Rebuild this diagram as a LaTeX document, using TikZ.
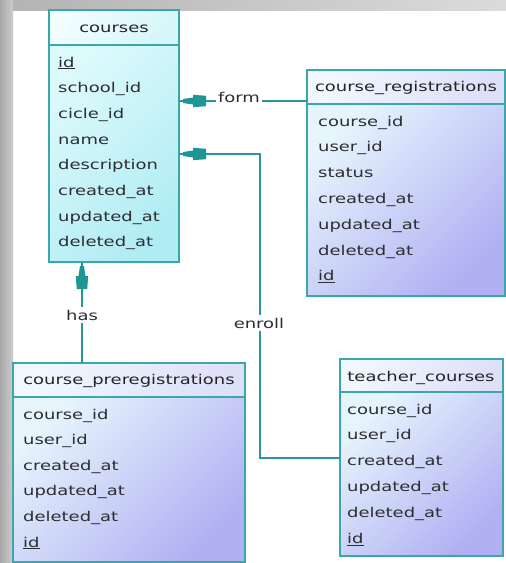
\documentclass[tikz,border=0pt]{standalone}
\usepackage{fontspec}
\newfontfamily\erfont[FakeStretch=1.33]{DejaVu Sans}
\definecolor{boxc}{RGB}{58,168,170}
\definecolor{connc}{RGB}{40,150,152}
\definecolor{arrc}{RGB}{30,150,150}
\definecolor{txtc}{RGB}{45,45,50}
\definecolor{cyhA}{RGB}{242,253,254}
\definecolor{cyhB}{RGB}{214,246,249}
\definecolor{cybA}{RGB}{220,250,252}
\definecolor{cybB}{RGB}{176,236,243}
\definecolor{lvhA}{RGB}{240,248,253}
\definecolor{lvhB}{RGB}{222,224,248}
\definecolor{lvbA}{RGB}{230,244,252}
\definecolor{lvbB}{RGB}{176,176,242}
\begin{document}
\begin{tikzpicture}[x=1pt,y=-1pt,
  tfont/.style={font=\erfont\fontsize{13.5}{16}\selectfont},
  conn/.style={draw=connc, line width=1.3pt},
  box/.style={draw=boxc, line width=1.2pt, rectangle, inner sep=0pt, outer sep=0pt, anchor=north west},
  cyh/.style={box, top color=cyhA, bottom color=cyhB, shading angle=60},
  cyb/.style={box, top color=cybA, bottom color=cybB, shading angle=45},
  lvh/.style={box, top color=lvhA, bottom color=lvhB, shading angle=60},
  lvb/.style={box, top color=lvbA, bottom color=lvbB, shading angle=45},
  row/.style={tfont, anchor=base west, inner sep=0pt, text=txtc},
  hdr/.style={tfont, anchor=base, inner sep=0pt, text=txtc!80!black},
  lbl/.style={tfont, fill=white, inner sep=2.5pt, text=txtc},
  fk/.pic={\fill[arrc] (4,-2) -- (14,-3.5) -- (14,-6.2) -- (27,-5.2) -- (27,5.2) -- (14,6.2) -- (14,3.5) -- (4,2) -- cycle;}
]
\useasboundingbox (0,0) rectangle (506,563);
\fill[white] (0,0) rectangle (506,563);
% window frame shadow
\fill[left color=black!30, right color=black!14] (0,0) rectangle (506,10);
\fill[left color=black!34, right color=black!20] (0,0) rectangle (13,563);

% tables: boxes
\node[cyh, minimum width=130pt, minimum height=35pt] (coursesH) at (49,10) {};
\node[cyb, minimum width=130pt, minimum height=217pt] (coursesB) at (49,45) {};
\node[lvh, minimum width=198pt, minimum height=34pt] (crH) at (307,70) {};
\node[lvb, minimum width=198pt, minimum height=192pt] (crB) at (307,104) {};
\node[lvh, minimum width=232pt, minimum height=34pt] (cpH) at (13,363) {};
\node[lvb, minimum width=232pt, minimum height=165pt] (cpB) at (13,397) {};
\node[lvh, minimum width=163pt, minimum height=33pt] (tcH) at (340,359) {};
\node[lvb, minimum width=163pt, minimum height=164pt] (tcB) at (340,392) {};

% headers
\node[hdr] (coursesT) at (114,32) {courses};
\node[hdr] (crT) at (406,91) {course\_registrations};
\node[hdr] (cpT) at (129,384) {course\_preregistrations};
\node[hdr] (tcT) at (421,381) {teacher\_courses};

% rows
\foreach \t [count=\i] in {{\underline{id}},school\_id,cicle\_id,name,description,created\_at,updated\_at,deleted\_at}
  \node[row] (cr\i) at (58,{67+25.7*(\i-1)}) {\t};
\foreach \t [count=\i] in {course\_id,user\_id,status,created\_at,updated\_at,deleted\_at,{\underline{id}}}
  \node[row] (rg\i) at (318,{126+25.8*(\i-1)}) {\t};
\foreach \t [count=\i] in {course\_id,user\_id,created\_at,updated\_at,deleted\_at,{\underline{id}}}
  \node[row] (pr\i) at (23,{419+25.6*(\i-1)}) {\t};
\foreach \t [count=\i] in {course\_id,user\_id,created\_at,updated\_at,deleted\_at,{\underline{id}}}
  \node[row] (tc\i) at (347,{414+25.9*(\i-1)}) {\t};

% connectors
\coordinate (formA) at (307,101);
\draw[conn] (formA -| crH.west) -- (formA -| coursesB.east);
\node[lbl] (formL) at (239,97) {form};
\pic at (formA -| coursesB.east) {fk};

\coordinate (en1) at (260,458);
\coordinate (en2) at (260,154);
\draw[conn] (en1 -| tcB.west) -- (en1) -- (en2) -- (en2 -| coursesB.east);
\node[lbl] (enL) at (259,323) {enroll};
\pic at (en2 -| coursesB.east) {fk};

\coordinate (hasA) at (82,315);
\draw[conn] (hasA |- cpH.north) -- (hasA |- coursesB.south);
\node[lbl] (hasL) at (hasA) {has};
\pic[rotate=-90] at (hasA |- coursesB.south) {fk};
\end{tikzpicture}
\end{document}
